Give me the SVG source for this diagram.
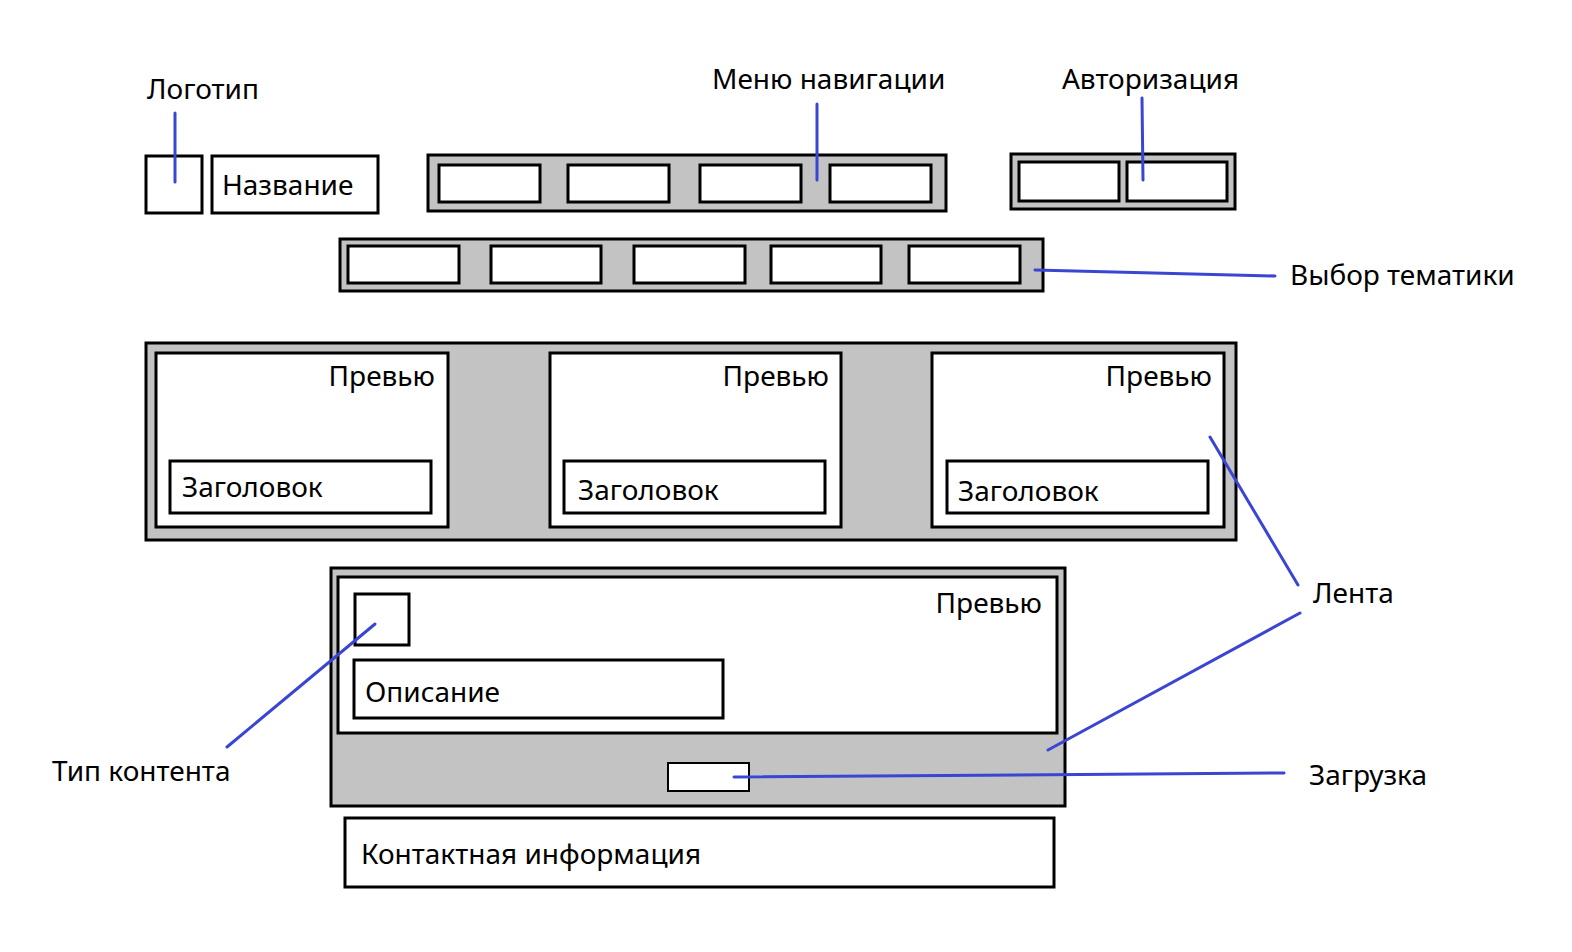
<svg xmlns="http://www.w3.org/2000/svg" width="1572" height="952" viewBox="0 0 1572 952">
<style>
.g{fill:#c3c3c3;stroke:#000;stroke-width:3}
.w{fill:#fff;stroke:#000;stroke-width:3}
.t{font-family:"Noto Sans","Open Sans",sans-serif;font-size:28px;fill:#000}
.r{text-anchor:end}
.c{stroke:#3b45d3;stroke-width:3;fill:none;stroke-linecap:round}
</style>
<rect width="1572" height="952" fill="#fff"/>
<g id="logo"><rect class="w" x="146" y="156" width="56" height="57"/></g>
<g id="name"><rect class="w" x="212" y="156" width="166" height="57"/><text class="t" x="222" y="195">Название</text></g>
<g id="nav">
<rect class="g" x="428" y="155" width="518" height="56"/>
<rect class="w" x="439" y="165" width="101" height="37"/>
<rect class="w" x="568" y="165" width="101" height="37"/>
<rect class="w" x="700" y="165" width="101" height="37"/>
<rect class="w" x="830" y="165" width="101" height="37"/>
</g>
<g id="auth">
<rect class="g" x="1011" y="154" width="224" height="55"/>
<rect class="w" x="1019" y="162" width="100" height="39"/>
<rect class="w" x="1127" y="162" width="100" height="39"/>
</g>
<g id="themes">
<rect class="g" x="340" y="239" width="703" height="52"/>
<rect class="w" x="348" y="246" width="111" height="37"/>
<rect class="w" x="491" y="246" width="110" height="37"/>
<rect class="w" x="634" y="246" width="111" height="37"/>
<rect class="w" x="771" y="246" width="110" height="37"/>
<rect class="w" x="909" y="246" width="111" height="37"/>
</g>
<g id="feed-top">
<rect class="g" x="146" y="343" width="1090" height="197"/>
<g id="card1"><rect class="w" x="156" y="353" width="292" height="174"/><text class="t r" x="435" y="386">Превью</text>
<rect class="w" x="170" y="461" width="261" height="52"/><text class="t" x="182" y="497">Заголовок</text></g>
<g id="card2"><rect class="w" x="550" y="353" width="291" height="174"/><text class="t r" x="829" y="386">Превью</text>
<rect class="w" x="564" y="461" width="261" height="52"/><text class="t" x="578" y="500">Заголовок</text></g>
<g id="card3"><rect class="w" x="932" y="353" width="292" height="174"/><text class="t r" x="1212" y="386">Превью</text>
<rect class="w" x="947" y="461" width="261" height="52"/><text class="t" x="958" y="501">Заголовок</text></g>
</g>
<g id="feed-bottom">
<rect class="g" x="331" y="568" width="734" height="238"/>
<rect class="w" x="338" y="577" width="719" height="156"/>
<text class="t r" x="1042" y="613">Превью</text>
<rect class="w" x="355" y="594" width="54" height="51"/>
<rect class="w" x="354" y="660" width="369" height="58"/>
<text class="t" x="365" y="702">Описание</text>
<rect fill="#fff" stroke="#000" stroke-width="2" x="668" y="763" width="81" height="28"/>
</g>
<g id="contacts"><rect class="w" x="345" y="818" width="709" height="69"/><text class="t" x="361" y="864">Контактная информация</text></g>
<g id="labels">
<text class="t" x="147" y="99">Логотип</text>
<text class="t" x="712" y="89">Меню навигации</text>
<text class="t" x="1062" y="89">Авторизация</text>
<text class="t" x="1290" y="285">Выбор тематики</text>
<text class="t" x="1313" y="603">Лента</text>
<text class="t" x="52" y="781">Тип контента</text>
<text class="t" x="1309" y="785">Загрузка</text>
</g>
<g id="connectors">
<line class="c" x1="175" y1="113" x2="175" y2="182"/>
<line class="c" x1="817" y1="104" x2="817" y2="180"/>
<line class="c" x1="1142" y1="98" x2="1143" y2="180"/>
<line class="c" x1="1035" y1="270" x2="1275" y2="276"/>
<line class="c" x1="1210" y1="437" x2="1298" y2="585"/>
<line class="c" x1="1300" y1="613" x2="1048" y2="750"/>
<line class="c" x1="375" y1="624" x2="227" y2="747"/>
<line class="c" x1="734" y1="777" x2="1284" y2="773"/>
</g>
</svg>
